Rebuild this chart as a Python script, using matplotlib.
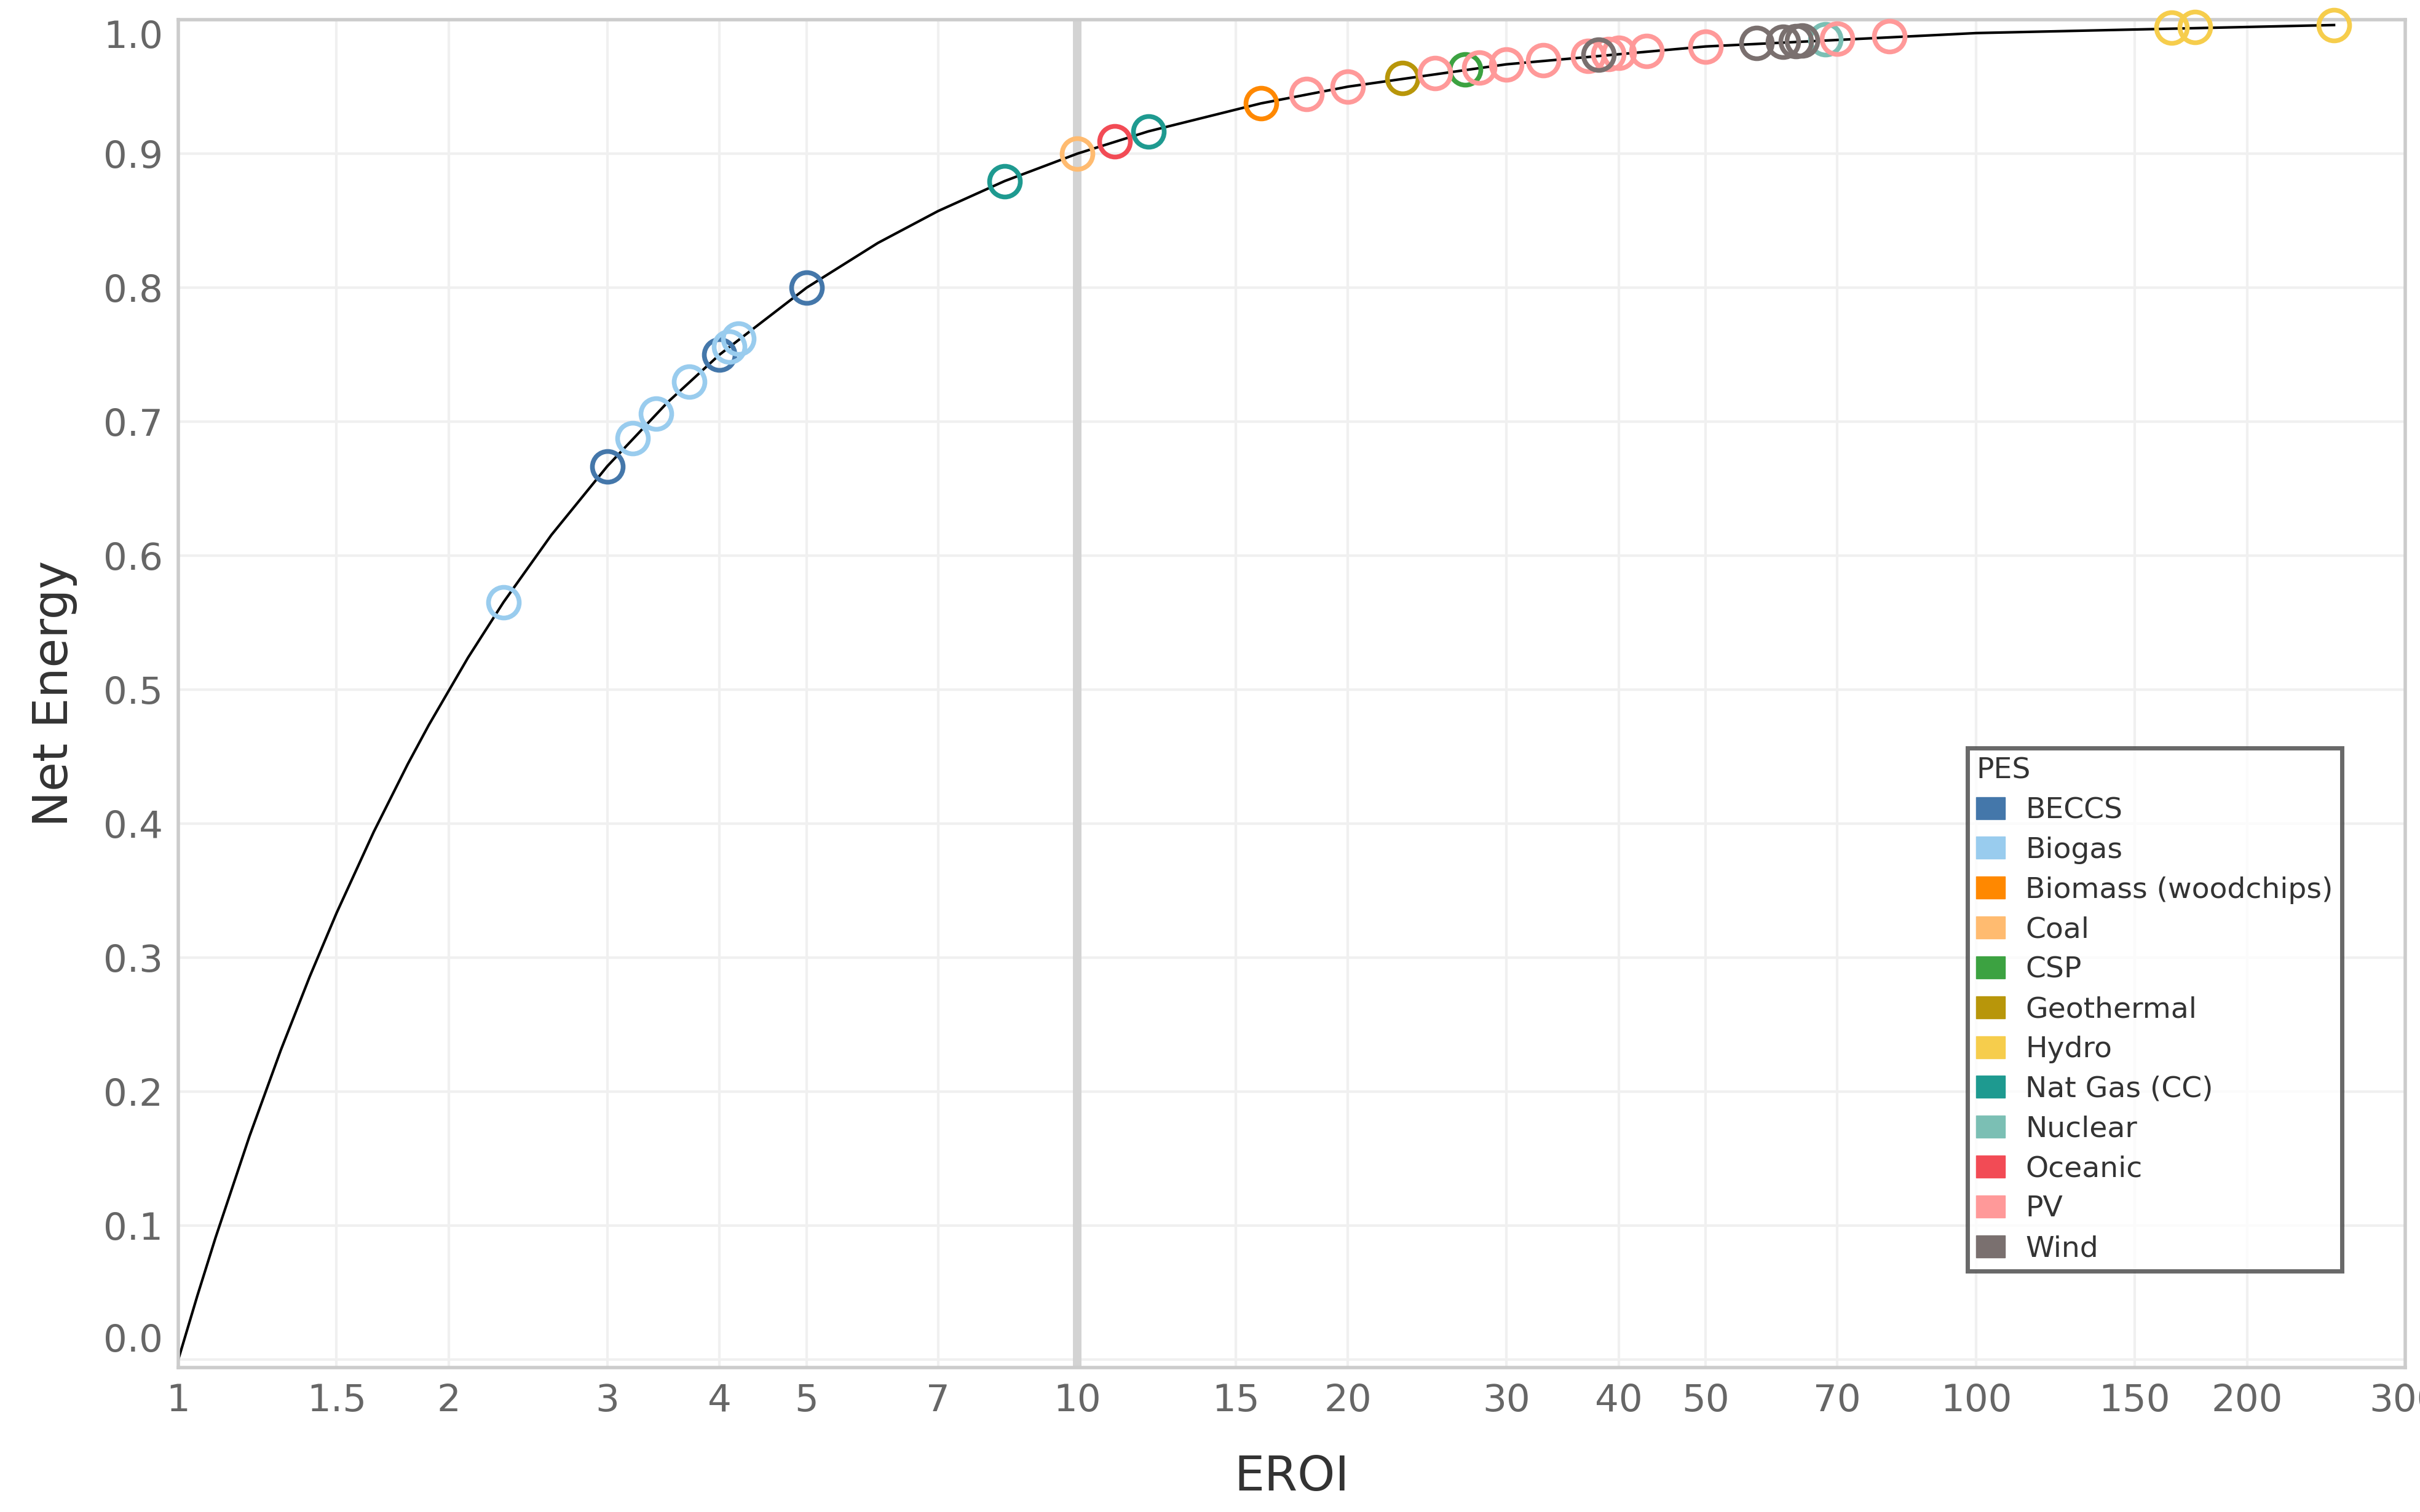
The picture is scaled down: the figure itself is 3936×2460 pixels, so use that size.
import matplotlib.pyplot as plt
import matplotlib.patches as mpatches
import numpy as np

# EROI values per primary energy source
pes = ['BECCS', 'Biogas', 'Biomass (woodchips)', 'Coal', 'CSP', 'Geothermal',
       'Hydro', 'Nat Gas (CC)', 'Nuclear', 'Oceanic', 'PV', 'Wind']
colors = ['#4477aa', '#99ccee', '#ff8800', '#ffbb70', '#3ca241', '#b8960a',
          '#f6cd4c', '#1e9a90', '#7bbfb4', '#f24b55', '#ff9999', '#7a706f']
eroi = {
    'BECCS': [3, 4, 5],
    'Biogas': [2.3, 3.2, 3.4, 3.7, 4.1, 4.2],
    'Biomass (woodchips)': [16],
    'Coal': [10],
    'CSP': [27],
    'Geothermal': [23],
    'Hydro': [165, 175, 250],
    'Nat Gas (CC)': [8.3, 12],
    'Nuclear': [68],
    'Oceanic': [11],
    'PV': [18, 20, 25, 28, 30, 33, 37, 39, 40, 43, 50, 70, 80],
    'Wind': [38, 57, 61, 63, 64],
}
curve_eroi = [1, 1.05, 1.1, 1.2, 1.3, 1.4, 1.5, 1.65, 1.8, 1.9, 2.1, 2.3, 2.6, 3,
              3.5, 4, 5, 6, 7, 8.3, 10, 12, 16, 20, 30, 50, 100, 250]
xticks = [1, 1.5, 2, 3, 4, 5, 7, 10, 15, 20, 30, 40, 50, 70, 100, 150, 200, 300]

fig = plt.figure(figsize=(39.37, 24.6), dpi=100)
ax = fig.add_axes([290/3937, 1 - 2225/2460, (3912-290)/3937, (2225-32)/2460])

ax.set_xscale('log')
ax.set_xlim(1.01, 300)
ax.set_ylim(-0.006, 1.0)

ax.axvline(10, color='#d3d3d3', lw=10, zorder=1)
cx = np.array(curve_eroi, dtype=float)
ax.plot(cx, 1 - 1/cx, color='black', lw=3, zorder=2)

for name, c in zip(pes, colors):
    x = np.array(eroi[name], dtype=float)
    ax.plot(x, 1 - 1/x, 'o', ms=36, mfc='none', mec=c, mew=5.5,
            clip_on=False, zorder=3)

ax.set_xticks(xticks)
ax.set_xticklabels([str(t) for t in xticks])
ax.minorticks_off()
ax.set_yticks(np.arange(0, 1.01, 0.1))
ax.set_yticklabels([f'{v:.1f}' for v in np.arange(0, 1.01, 0.1)])
ax.tick_params(length=0, labelsize=44, colors='#666666', pad=18)
ax.get_yticklabels()[-1].set_va('top')
ax.get_yticklabels()[0].set_va('bottom')
ax.grid(True, color='#f0f0f0', lw=3)
ax.set_axisbelow(True)
for s in ax.spines.values():
    s.set_color('#cccccc')
    s.set_linewidth(4)

ax.set_xlabel('EROI', fontsize=56, color='#333333', labelpad=40)
ax.set_ylabel('Net Energy', fontsize=56, color='#333333', labelpad=30)

handles = [mpatches.Patch(color=c, label=n) for n, c in zip(pes, colors)]
leg = ax.legend(handles=handles, title='PES', loc='upper left',
                bbox_to_anchor=((3200-290)/3622, 1 - (1217-32)/2193),
                fontsize=34, title_fontsize=34, frameon=True, fancybox=False,
                handlelength=1.0, handleheight=0.8, handletextpad=0.7,
                labelspacing=0.42, borderpad=0.3, borderaxespad=0)
leg._legend_box.align = 'left'
leg.get_frame().set_edgecolor('#444444')
leg.get_frame().set_linewidth(5)
for t in leg.get_texts():
    t.set_color('#333333')
leg.get_title().set_color('#333333')

fig.savefig('out.png', dpi=100)
